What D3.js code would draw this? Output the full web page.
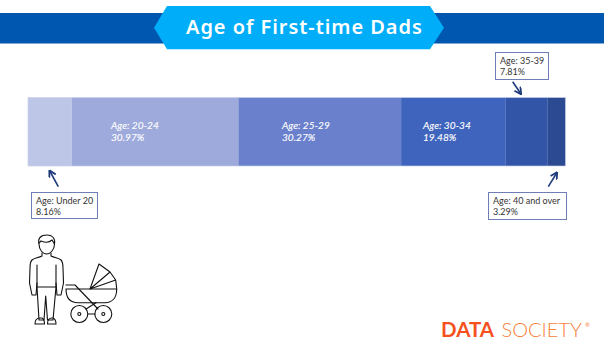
<!DOCTYPE html>
<html><head><meta charset="utf-8">
<script src="https://cdn.jsdelivr.net/npm/d3@7"></script>
<style>html,body{margin:0;padding:0;background:#fff}svg{display:block}</style>
</head><body><svg id="c" width="605" height="353"></svg>
<script>
const categories=["Age: Under 20","Age: 20-24","Age: 25-29","Age: 30-34","Age: 35-39","Age: 40 and over"];
const shares=[8.16,30.97,30.27,19.48,7.81,3.29];
const fills=["#bdc6e6","#9daadb","#6a80cd","#3f64be","#3355a8","#2b4a92"];
const svg=d3.select("#c");
const font="Lato, sans-serif";
// header
svg.append("rect").attr("x",0).attr("y",13).attr("width",604).attr("height",30.5).attr("fill","#0057b0");
svg.append("path").attr("d","M154,27.7 L167,6 L430,6 L444,27.7 L430,49.3 L167,49.3Z").attr("fill","#00adf8");
svg.append("text").attr("x",186).attr("y",33.5).attr("fill","#fff")
 .attr("font-family","'Noto Sans',sans-serif").attr("font-weight",600).attr("font-size",20).attr("letter-spacing",0.95).text("Age of First-time Dads");
// bar
const total=d3.sum(shares);
const x=d3.scaleLinear().domain([0,total]).range([28,565.5]);
const y=d3.scaleBand().domain(["all"]).range([97.5,166]);
const cum=d3.cumsum(shares);
const rows=categories.map((c,i)=>({c,v:shares[i],a:i?cum[i-1]:0,b:cum[i],f:fills[i]}));
svg.append("g").selectAll("rect").data(rows).join("rect")
 .attr("x",d=>x(d.a)).attr("width",d=>x(d.b)-x(d.a)).attr("y",y("all")).attr("height",y.bandwidth()).attr("fill",d=>d.f);
svg.append("rect").attr("x",x(0)).attr("y",y("all")).attr("width",x(total)-x(0)).attr("height",y.bandwidth())
 .attr("fill","none").attr("stroke","#c9d1ec").attr("stroke-width",.8).attr("stroke-opacity",.8);
// in-bar labels
const inside=[[1,111],[2,282],[3,423]];
inside.forEach(([i,lx])=>{
 const t=svg.append("text").attr("font-family",font).attr("font-style","italic").attr("font-size",10.1).attr("fill","#fff")
  .attr("stroke","#fff").attr("stroke-width",.12).attr("x",lx).attr("y",129);
 t.append("tspan").attr("x",lx).text(categories[i]);
 t.append("tspan").attr("x",lx).attr("dy",12).text(shares[i].toFixed(2)+"%");
});
// callouts
const boxes=[[0,31.5,192.5,66,26],[4,495.5,52.5,53,27],[5,488.5,192.5,78,27]];
boxes.forEach(([i,bx,by,bw,bh])=>{
 svg.append("rect").attr("x",bx).attr("y",by).attr("width",bw).attr("height",bh).attr("fill","#fff").attr("stroke","#6f7fb5").attr("stroke-width",1);
 const t=svg.append("text").attr("font-family",font).attr("font-size",9).attr("fill","#333").attr("y",by+11);
 t.append("tspan").attr("x",bx+4.5).text(categories[i]);
 t.append("tspan").attr("x",bx+4.5).attr("dy",11.3).text(shares[i].toFixed(2)+"%");
});
// arrows
const defs=svg.append("defs");
defs.append("marker").attr("id","ah").attr("markerUnits","userSpaceOnUse").attr("viewBox","0 0 10 10").attr("refX",9).attr("refY",5).attr("markerWidth",8).attr("markerHeight",8).attr("orient","auto")
 .append("path").attr("d","M1,0.5 L9.5,5 L1,9.5").attr("fill","none").attr("stroke","#1f3a7c").attr("stroke-width",2.2);
const line=d3.line();
[[[58.3,186.7],[49.5,170.5]],[[512.7,81.7],[521,94]],[[548.3,186.7],[557,172.5]]].forEach(p=>{
 svg.append("path").attr("d",line(p)).attr("stroke","#1f3a7c").attr("stroke-width",1.6).attr("fill","none").attr("marker-end","url(#ah)");
});
// dad icon
const icon=svg.append("g").attr("fill","none").attr("stroke","#111").attr("stroke-width",1.1).attr("stroke-linejoin","round").attr("stroke-linecap","round");
icon.append("path").attr("d","M39,244 C37.500,238 41,235 47,235 C52,235 55.500,238 54.500,244 C54.500,250 50,254 46.700,254 C43,254 39,250 39,244Z");
icon.append("path").attr("d","M39,243 L41,241 C46,243 50,242 52,240 L54.500,244");
icon.append("path").attr("d","M42,253 L42,256 C38,258 34,258 32,260 C30,262 30,264 30,268 L29.500,283 L32,295 L36,295 L37,283 M51,253 L51,256 C55,258 59,258 61,260 C63,262 63,264 63,268 L63.500,283 L61,295 L57,295 L56,283");
icon.append("path").attr("d","M37,265 L37,287 L39,320 L44,320 L45.700,296 L47.500,320 L53,320 L56,287 L56,265 M37,287 L56,287");
icon.append("path").attr("d","M35,324 C35,320 37,318 40,318 L42,318 C44,319 44.500,321 44.500,324Z M47.500,324 C47.500,320 49,318 52,318 L53,318 C55.500,319 56,321 56,324Z");
// pram icon
icon.append("path").attr("d","M66,285 L75,285 L98,309");
icon.append("path").attr("d","M66,289 L116.700,289 C116.700,298 112,302.700 105,302.700 L78,302.700 C70,302.700 66,298 66,289Z");
icon.append("path").attr("d","M90,289 L99,264 L110,272 L115.700,280 L116.700,289 M90,289 L110,272 M90,289 L115.700,280");
icon.append("path").attr("d","M86,309 L96,302.700 M88,314 L95,314");
[[79.3,314],[103.3,314]].forEach(([cx,cy])=>{
 icon.append("circle").attr("cx",cx).attr("cy",cy).attr("r",8.5);
 icon.append("circle").attr("cx",cx).attr("cy",cy).attr("r",1.5);
});
// logo
const lg=svg.append("g").attr("font-family",font);
lg.append("text").attr("x",441).attr("y",337).attr("font-size",20.5).attr("font-weight",700).attr("fill","#f4511e").text("DATA");
lg.append("text").attr("x",501.5).attr("y",337).attr("font-size",20).attr("font-weight",300).attr("fill","#f7813a").text("SOCIETY");
lg.append("text").attr("x",585).attr("y",327).attr("font-size",6).attr("fill","#f7813a").text("®");
</script></body></html>
